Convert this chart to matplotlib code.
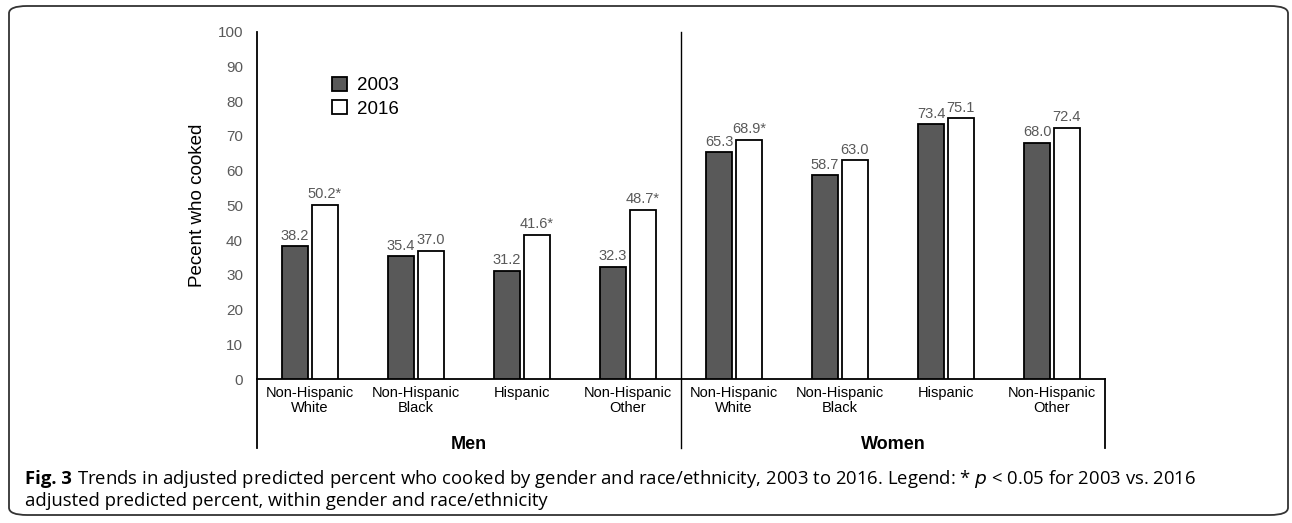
import matplotlib
matplotlib.use("Agg")
import matplotlib.pyplot as plt
from matplotlib import font_manager
from matplotlib.patches import FancyBboxPatch
import numpy as np

# data
groups = ["Men", "Women"]
categories = ["Non-Hispanic\nWhite", "Non-Hispanic\nBlack", "Hispanic", "Non-Hispanic\nOther"] * 2
vals_2003 = [38.2, 35.4, 31.2, 32.3, 65.3, 58.7, 73.4, 68.0]
vals_2016 = [50.2, 37.0, 41.6, 48.7, 68.9, 63.0, 75.1, 72.4]
signif_2016 = [True, False, True, True, True, False, False, False]
series_names = ["2003", "2016"]

ARIAL = ["Liberation Sans", "DejaVu Sans"]
GRAY = "#595959"

installed = {f.name for f in font_manager.fontManager.ttflist}
if "Liberation Sans Narrow" in installed:
    CAT_FONT, CAT_SIZE = ["Liberation Sans Narrow"] + ARIAL, 12
else:
    CAT_FONT, CAT_SIZE = ARIAL, 10.5

fig = plt.figure(figsize=(12.92, 5.23), dpi=100)
ax = fig.add_axes([0.1989, 0.2753, 0.6563, 0.664])

x = np.arange(len(categories))
off = 0.14
w = 0.245
ax.bar(x - off, vals_2003, w, color="#595959", edgecolor="black", linewidth=1.3,
       label=series_names[0], zorder=3)
ax.bar(x + off, vals_2016, w, color="white", edgecolor="black", linewidth=1.3,
       label=series_names[1], zorder=3)

for xi, v in zip(x, vals_2003):
    ax.annotate(f"{v:.1f}", (xi - off, v), xytext=(0, 2.5), textcoords="offset points",
                ha="center", va="bottom", fontsize=10.5, color=GRAY, family=ARIAL)
for xi, v, s in zip(x, vals_2016, signif_2016):
    ax.annotate(f"{v:.1f}" + ("*" if s else ""), (xi + off, v), xytext=(0, 2.5),
                textcoords="offset points", ha="center", va="bottom", fontsize=10.5,
                color=GRAY, family=ARIAL)

ax.set_xlim(-0.5, 7.5)
ax.set_ylim(0, 100)
ax.set_yticks(range(0, 101, 10))
ax.tick_params(axis="y", length=0, pad=10, labelsize=11, labelcolor=GRAY)
for t in ax.get_yticklabels():
    t.set_family(ARIAL)
ax.set_xticks(x)
ax.set_xticklabels(categories, fontsize=CAT_SIZE, family=CAT_FONT, linespacing=1.1)
ax.tick_params(axis="x", length=0, pad=5)

for s in ["top", "right"]:
    ax.spines[s].set_visible(False)
ax.spines["left"].set_linewidth(1.3)
ax.spines["bottom"].set_linewidth(1.3)

# group separators reaching below the axis
tr = ax.get_xaxis_transform()
ax.plot([-0.5, -0.5], [-0.199, 0], transform=tr, color="black", lw=1.3, clip_on=False)
ax.plot([3.5, 3.5], [-0.199, 1], transform=tr, color="black", lw=1.0, clip_on=False)
ax.plot([7.5, 7.5], [-0.199, 0], transform=tr, color="black", lw=1.3, clip_on=False)
for i, g in enumerate(groups):
    ax.text(1.5 + 4 * i, -0.19, g, transform=tr, ha="center", va="center",
            fontsize=13, fontweight="bold", family=ARIAL)

ax.set_ylabel("Pecent who cooked", fontsize=13.5, family=ARIAL)
ax.yaxis.set_label_coords(-0.06, 0.5)

ax.legend(loc="upper left", bbox_to_anchor=(0.078, 0.897), frameon=False,
          handlelength=0.75, handleheight=0.75, handletextpad=0.55,
          labelspacing=0.33, borderpad=0, prop={"family": ARIAL, "size": 13.5})

# caption
cap_kw = dict(fontsize=13.3, family="Open Sans", va="baseline")
fig_lbl = fig.text(25 / 1292, 0.0746, "Fig. 3", fontweight="bold", **cap_kw)
fig.canvas.draw()
bb = fig_lbl.get_window_extent().transformed(fig.transFigure.inverted())
fig.text(bb.x1 + 5 / 1292, 0.0746,
         "Trends in adjusted predicted percent who cooked by gender and race/ethnicity, "
         "2003 to 2016. Legend: * $\\it{p}$ < 0.05 for 2003 vs. 2016", **cap_kw)
fig.text(25 / 1292, 0.0325, "adjusted predicted percent, within gender and race/ethnicity",
         **cap_kw)

box = FancyBboxPatch((9 / 1292, 8 / 523), 1279 / 1292, 509 / 523,
                     boxstyle="round,pad=0,rounding_size=0.014", transform=fig.transFigure,
                     fill=False, edgecolor="#333333", lw=1.3)
fig.patches.append(box)

fig.savefig("out.png", dpi=100)
